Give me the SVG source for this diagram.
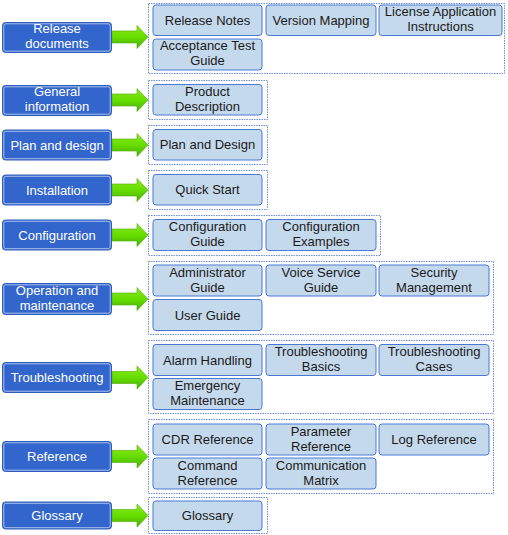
<svg xmlns="http://www.w3.org/2000/svg" width="508" height="535" viewBox="0 0 508 535">
<defs>
<linearGradient id="gr" x1="0" y1="0" x2="0" y2="1">
<stop offset="0" stop-color="#8CEB1A"/>
<stop offset="0.5" stop-color="#66DD00"/>
<stop offset="1" stop-color="#48B000"/>
</linearGradient>
<path id="arr" d="M112,-6 L137,-6 L137,-11.5 L148,0 L137,11.5 L137,6 L112,6 Z"/>
</defs>
<style>
.cat rect.o{fill:#3366CC;stroke:#2F5DBE;stroke-width:1}
.cat rect.i{fill:none;stroke:#C8D6F4;stroke-width:0.8}
.cat text{fill:#FFFFFF;font-family:"Liberation Sans",Arial,sans-serif;font-size:13px;text-anchor:middle}
.grp{fill:#FFFFFF;stroke:#6A8FD8;stroke-width:1;stroke-dasharray:1.5 1}
.doc rect{fill:#C5D9EC;stroke:#4A78D4;stroke-width:1}
.doc text{fill:#1A1A1A;font-family:"Liberation Sans",Arial,sans-serif;font-size:13px;text-anchor:middle}
.arrow{fill:url(#gr);stroke:#4FA800;stroke-width:0.6}
</style>

<g id="connectors">
<use href="#arr" class="arrow" transform="translate(0,37)"/>
<use href="#arr" class="arrow" transform="translate(0,100)"/>
<use href="#arr" class="arrow" transform="translate(0,145)"/>
<use href="#arr" class="arrow" transform="translate(0,190)"/>
<use href="#arr" class="arrow" transform="translate(0,235)"/>
<use href="#arr" class="arrow" transform="translate(0,299)"/>
<use href="#arr" class="arrow" transform="translate(0,377.5)"/>
<use href="#arr" class="arrow" transform="translate(0,456.5)"/>
<use href="#arr" class="arrow" transform="translate(0,515.5)"/>
</g>

<!-- Categories -->
<g id="cat-release" class="cat"><rect class="o" x="2.5" y="22.5" width="109" height="30" rx="3"/><rect class="i" x="3.8" y="23.8" width="106.4" height="27.4" rx="2"/><text x="57" y="33">Release</text><text x="57" y="48">documents</text></g>
<g id="cat-general" class="cat"><rect class="o" x="2.5" y="85.5" width="109" height="30" rx="3"/><rect class="i" x="3.8" y="86.8" width="106.4" height="27.4" rx="2"/><text x="57" y="96">General</text><text x="57" y="111">information</text></g>
<g id="cat-plan" class="cat"><rect class="o" x="2.5" y="130" width="109" height="30" rx="3"/><rect class="i" x="3.8" y="131.3" width="106.4" height="27.4" rx="2"/><text x="57" y="149.5">Plan and design</text></g>
<g id="cat-install" class="cat"><rect class="o" x="2.5" y="175" width="109" height="30" rx="3"/><rect class="i" x="3.8" y="176.3" width="106.4" height="27.4" rx="2"/><text x="57" y="194.5">Installation</text></g>
<g id="cat-config" class="cat"><rect class="o" x="2.5" y="220" width="109" height="30" rx="3"/><rect class="i" x="3.8" y="221.3" width="106.4" height="27.4" rx="2"/><text x="57" y="239.5">Configuration</text></g>
<g id="cat-operation" class="cat"><rect class="o" x="2.5" y="283.5" width="109" height="31" rx="3"/><rect class="i" x="3.8" y="284.8" width="106.4" height="28.4" rx="2"/><text x="57" y="295">Operation and</text><text x="57" y="310">maintenance</text></g>
<g id="cat-trouble" class="cat"><rect class="o" x="2.5" y="362.5" width="109" height="30" rx="3"/><rect class="i" x="3.8" y="363.8" width="106.4" height="27.4" rx="2"/><text x="57" y="382">Troubleshooting</text></g>
<g id="cat-reference" class="cat"><rect class="o" x="2.5" y="441.5" width="109" height="30" rx="3"/><rect class="i" x="3.8" y="442.8" width="106.4" height="27.4" rx="2"/><text x="57" y="461">Reference</text></g>
<g id="cat-glossary" class="cat"><rect class="o" x="2.5" y="502" width="109" height="27" rx="3"/><rect class="i" x="3.8" y="503.3" width="106.4" height="24.4" rx="2"/><text x="57" y="520">Glossary</text></g>

<!-- Group containers -->
<g id="group-release"><rect class="grp" x="148.5" y="3.5" width="356" height="70"/></g>
<g id="group-general"><rect class="grp" x="148.5" y="80.5" width="119" height="39"/></g>
<g id="group-plan"><rect class="grp" x="148.5" y="125.5" width="119" height="39"/></g>
<g id="group-install"><rect class="grp" x="148.5" y="170.5" width="119" height="39"/></g>
<g id="group-config"><rect class="grp" x="148.5" y="215.5" width="232" height="40"/></g>
<g id="group-operation"><rect class="grp" x="148.5" y="261.5" width="345" height="73"/></g>
<g id="group-trouble"><rect class="grp" x="148.5" y="340.5" width="345" height="73"/></g>
<g id="group-reference"><rect class="grp" x="148.5" y="419.5" width="345" height="74"/></g>
<g id="group-glossary"><rect class="grp" x="148.5" y="497.5" width="119" height="36"/></g>

<!-- Documents -->
<g id="doc-release-notes" class="doc"><rect x="153" y="5" width="109" height="30.5" rx="3"/><text x="207.5" y="24.5">Release Notes</text></g>
<g id="doc-version-mapping" class="doc"><rect x="266" y="5" width="110" height="30.5" rx="3"/><text x="321" y="24.5">Version Mapping</text></g>
<g id="doc-license" class="doc"><rect x="379" y="5" width="123" height="30.5" rx="3"/><text x="440.5" y="16">License Application</text><text x="440.5" y="31">Instructions</text></g>
<g id="doc-acceptance" class="doc"><rect x="153" y="39" width="109" height="31" rx="3"/><text x="207.5" y="50">Acceptance Test</text><text x="207.5" y="65">Guide</text></g>

<g id="doc-product" class="doc"><rect x="153" y="84.5" width="109" height="30.5" rx="3"/><text x="207.5" y="95.5">Product</text><text x="207.5" y="110.5">Description</text></g>

<g id="doc-plan" class="doc"><rect x="153" y="129.5" width="109" height="30.5" rx="3"/><text x="207.5" y="149">Plan and Design</text></g>

<g id="doc-quick" class="doc"><rect x="153" y="174.5" width="109" height="30.5" rx="3"/><text x="207.5" y="194">Quick Start</text></g>

<g id="doc-config-guide" class="doc"><rect x="153" y="219.5" width="109" height="31" rx="3"/><text x="207.5" y="231">Configuration</text><text x="207.5" y="246">Guide</text></g>
<g id="doc-config-examples" class="doc"><rect x="266" y="219.5" width="110" height="31" rx="3"/><text x="321" y="231">Configuration</text><text x="321" y="246">Examples</text></g>

<g id="doc-admin" class="doc"><rect x="153" y="265" width="109" height="31" rx="3"/><text x="207.5" y="276.5">Administrator</text><text x="207.5" y="291.5">Guide</text></g>
<g id="doc-voice" class="doc"><rect x="266" y="265" width="110" height="31" rx="3"/><text x="321" y="276.5">Voice Service</text><text x="321" y="291.5">Guide</text></g>
<g id="doc-security" class="doc"><rect x="379" y="265" width="110" height="31" rx="3"/><text x="434" y="276.5">Security</text><text x="434" y="291.5">Management</text></g>
<g id="doc-user" class="doc"><rect x="153" y="299.5" width="109" height="31" rx="3"/><text x="207.5" y="319.5">User Guide</text></g>

<g id="doc-alarm" class="doc"><rect x="153" y="344.5" width="109" height="31" rx="3"/><text x="207.5" y="364.5">Alarm Handling</text></g>
<g id="doc-ts-basics" class="doc"><rect x="266" y="344.5" width="110" height="31" rx="3"/><text x="321" y="356">Troubleshooting</text><text x="321" y="371">Basics</text></g>
<g id="doc-ts-cases" class="doc"><rect x="379" y="344.5" width="110" height="31" rx="3"/><text x="434" y="356">Troubleshooting</text><text x="434" y="371">Cases</text></g>
<g id="doc-emergency" class="doc"><rect x="153" y="378.5" width="109" height="31" rx="3"/><text x="207.5" y="390">Emergency</text><text x="207.5" y="405">Maintenance</text></g>

<g id="doc-cdr" class="doc"><rect x="153" y="424" width="109" height="31" rx="3"/><text x="207.5" y="443.5">CDR Reference</text></g>
<g id="doc-parameter" class="doc"><rect x="266" y="424" width="110" height="31" rx="3"/><text x="321" y="435.5">Parameter</text><text x="321" y="450.5">Reference</text></g>
<g id="doc-log" class="doc"><rect x="379" y="424" width="110" height="31" rx="3"/><text x="434" y="443.5">Log Reference</text></g>
<g id="doc-command" class="doc"><rect x="153" y="458" width="109" height="31" rx="3"/><text x="207.5" y="469.5">Command</text><text x="207.5" y="484.5">Reference</text></g>
<g id="doc-communication" class="doc"><rect x="266" y="458" width="110" height="31" rx="3"/><text x="321" y="469.5">Communication</text><text x="321" y="484.5">Matrix</text></g>

<g id="doc-glossary" class="doc"><rect x="153" y="501" width="109" height="29.5" rx="3"/><text x="207.5" y="520">Glossary</text></g>
</svg>
